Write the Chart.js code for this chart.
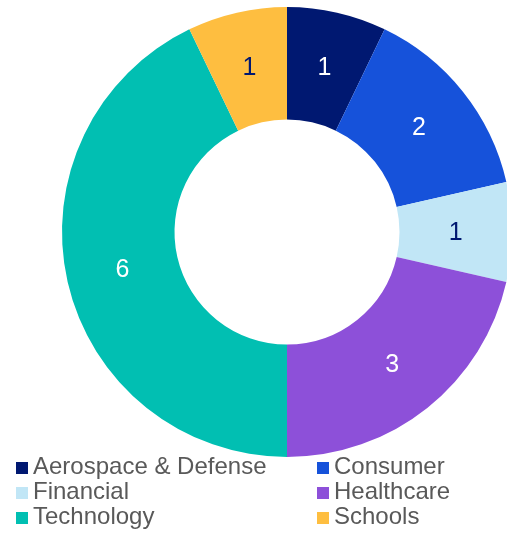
<!DOCTYPE html>
<html>
<head>
<meta charset="utf-8">
<script src="https://cdn.jsdelivr.net/npm/chart.js@4.4.1/dist/chart.umd.min.js"></script>
<style>
    html, body { margin: 0; padding: 0; width: 507px; height: 533px; overflow: hidden; background: #fff; }
    #wrap { position: absolute; left: 0; top: 0; width: 507px; height: 533px; overflow: hidden; }
    #grafico { position: absolute; left: 0; top: 0; }
    #legenda {
        position: absolute; left: 16px; top: 453px;
        display: grid; grid-template-columns: 301px 190px;
        font-family: "Liberation Sans", Arial, sans-serif; font-size: 24px;
        line-height: 25px; color: #595959;
    }
    .item { white-space: nowrap; }
    .caixa { display: inline-block; width: 12px; height: 12px; margin-right: 5px; vertical-align: 0px; }
</style>
</head>
<body>
<div id="wrap">
    <canvas id="grafico" width="574" height="464"></canvas>
    <div id="legenda"></div>
</div>
<script>
// ========== DADOS ==========
const setores = ["Aerospace & Defense", "Consumer", "Financial", "Healthcare", "Technology", "Schools"];
const quantidades = [1, 2, 1, 3, 6, 1];
const cores = ["#001871", "#1652DA", "#C1E6F6", "#8D50D9", "#01BFB2", "#FEBE40"];
const coresTexto = ["#ffffff", "#ffffff", "#001871", "#ffffff", "#ffffff", "#001871"];

// Rótulos com os valores no meio de cada fatia
const rotulosValores = {
    id: "rotulosValores",
    afterDatasetsDraw(chart) {
        const ctx = chart.ctx;
        const meta = chart.getDatasetMeta(0);
        ctx.save();
        ctx.font = "25px 'Liberation Sans', Arial, sans-serif";
        ctx.textAlign = "center";
        ctx.textBaseline = "middle";
        meta.data.forEach((arco, i) => {
            const p = arco.getCenterPoint();
            ctx.fillStyle = coresTexto[i];
            ctx.fillText(String(quantidades[i]), p.x, p.y + 1);
        });
        ctx.restore();
    }
};

const grafico = new Chart(document.getElementById("grafico").getContext("2d"), {
    type: "doughnut",
    data: {
        labels: setores,
        datasets: [{
            data: quantidades,
            backgroundColor: cores,
            borderWidth: 0
        }]
    },
    options: {
        responsive: false,
        animation: false,
        cutout: "50%",
        layout: { padding: { top: 7, bottom: 7, left: 0, right: 0 } },
        plugins: {
            legend: { display: false },
            tooltip: { enabled: false }
        }
    },
    plugins: [rotulosValores]
});

// Legenda em HTML, duas colunas
const legenda = document.getElementById("legenda");
grafico.options.plugins.legend.labels.generateLabels(grafico).forEach(item => {
    const div = document.createElement("div");
    div.className = "item";
    const caixa = document.createElement("span");
    caixa.className = "caixa";
    caixa.style.background = item.fillStyle;
    div.appendChild(caixa);
    div.appendChild(document.createTextNode(item.text));
    legenda.appendChild(div);
});
</script>
</body>
</html>
